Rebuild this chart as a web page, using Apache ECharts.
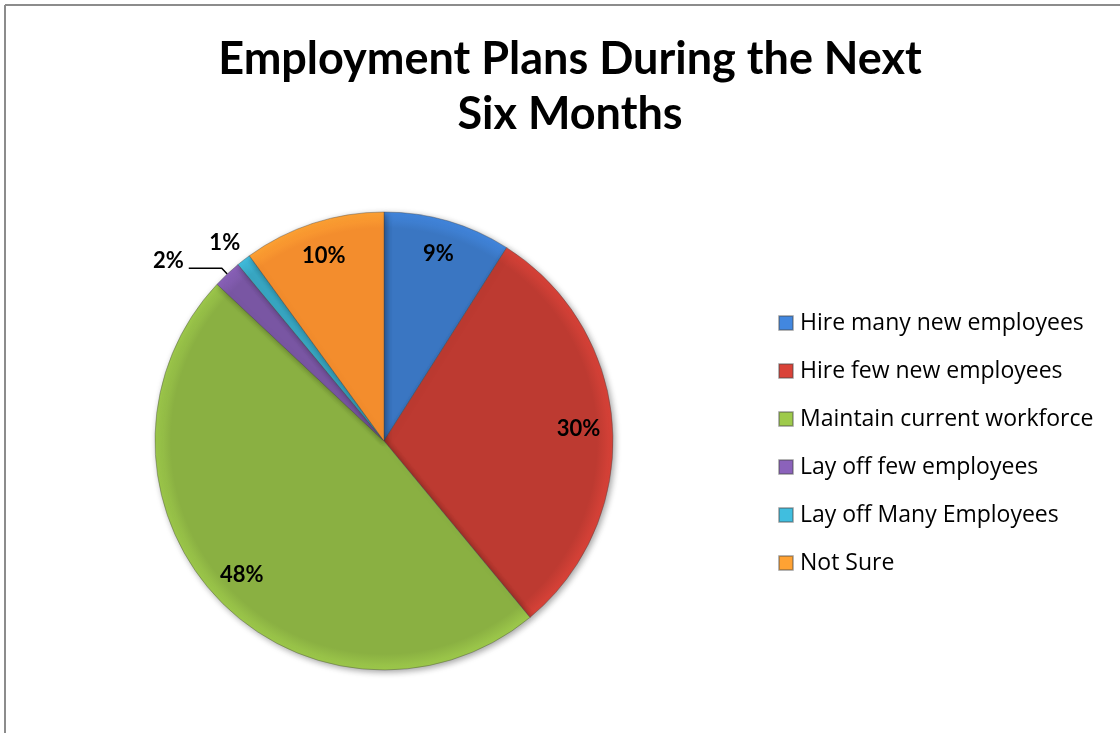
<!DOCTYPE html>
<html>
<head>
<meta charset="utf-8">
<script src="https://cdn.jsdelivr.net/npm/echarts@6/dist/echarts.min.js"></script>
<style>
html,body{margin:0;padding:0;background:#fff;}
#chart{width:1120px;height:733px;}
</style>
</head>
<body>
<div id="chart"></div>
<script>
const titleText = 'Employment Plans During the Next\nSix Months';
const categories = ['Hire many new employees','Hire few new employees','Maintain current workforce','Lay off few employees','Lay off Many Employees','Not Sure'];
const values = [9, 30, 48, 2, 1, 10];
const colors = ['#3a76c2','#bd3a31','#8ab042','#7956a3','#38a6c2','#f38d2d'];
const insideLabelSlices = [true, true, true, false, false, true];

const FONT = 'Lato';
const LEGEND_FONT = 'Open Sans';
const CX = 384, CY = 441, R = 229;
const chart = echarts.init(document.getElementById('chart'));

function fill(c){
  return new echarts.graphic.RadialGradient(CX, CY, R, [
    {offset:0, color: c},
    {offset:0.93, color: c},
    {offset:1, color: echarts.color.lift(c, -0.15)}
  ], true);
}

const baseData = categories.map((n,i)=>{
  const d = {name:n, value:values[i], itemStyle:{color:fill(colors[i])}};
  if (!insideLabelSlices[i]) {
    if (values[i] === 2) {
      d.label = {show:true, distanceToLabelLine:5, formatter:'{c}%\n ', lineHeight:15};
      d.labelLine = {show:true, length:8, length2:33, lineStyle:{color:'#000', width:1.5}};
    } else {
      d.label = {show:true, distanceToLabelLine:2};
      d.labelLine = {show:false, length:22, length2:-12};
    }
  } else {
    d.label = {show:false};
    d.labelLine = {show:false};
  }
  return d;
});

const overlayData = categories.map((n,i)=>({
  name:n, value:values[i],
  label:{show: insideLabelSlices[i]}
}));

chart.setOption({
  animation:false,
  backgroundColor:'#fff',
  title:{
    text:titleText, left:565, textAlign:'center', top:27,
    textStyle:{fontFamily:FONT, fontWeight:'bold', fontSize:45, lineHeight:55, color:'#000'}
  },
  legend:{
    orient:'vertical', left:778, top:311, padding:0,
    itemWidth:14, itemHeight:14, itemGap:24, icon:'rect',
    data: categories,
    textStyle:{fontFamily:LEGEND_FONT, fontSize:23, lineHeight:24, color:'#000', padding:[0,0,0,2]}
  },
  graphic:[
    {type:'line', shape:{x1:5, y1:5, x2:1120, y2:5}, style:{stroke:'#8c8c8c', lineWidth:2}, silent:true},
    {type:'line', shape:{x1:5, y1:5, x2:5, y2:733}, style:{stroke:'#8c8c8c', lineWidth:2}, silent:true}
  ],
  series:[
    {
      type:'pie', center:[CX,CY], radius:[0,R], startAngle:90, clockwise:true,
      avoidLabelOverlap:false, silent:true,
      color: colors,
      itemStyle:{borderColor:'rgba(70,70,70,0.4)', borderWidth:1, shadowBlur:6, shadowColor:'rgba(0,0,0,0.35)', shadowOffsetX:2, shadowOffsetY:2},
      label:{position:'outside', formatter:'{c}%', fontFamily:FONT, fontWeight:'bold', fontSize:22, color:'#000'},
      data: baseData
    },
    {
      type:'pie', center:[CX,CY], radius:[155,R], startAngle:90, clockwise:true,
      avoidLabelOverlap:false, silent:true,
      itemStyle:{color:'rgba(0,0,0,0)', borderWidth:0},
      label:{position:'inside', formatter:'{c}%', fontFamily:FONT, fontWeight:'bold', fontSize:22, color:'#000'},
      labelLine:{show:false},
      data: overlayData
    }
  ]
});
</script>
</body>
</html>
